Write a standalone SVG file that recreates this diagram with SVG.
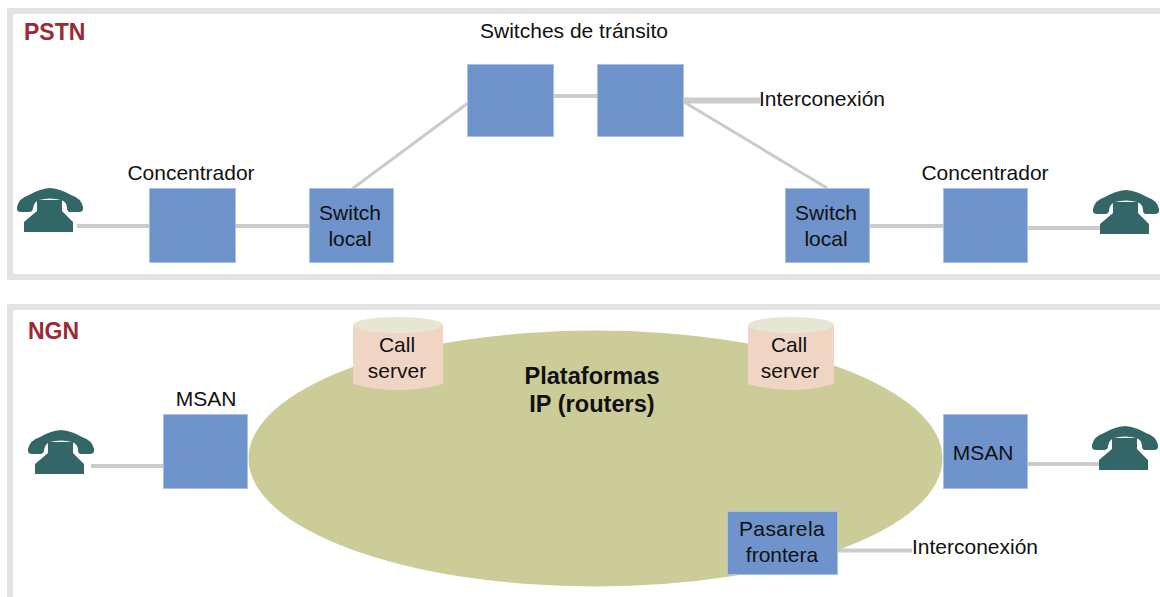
<svg xmlns="http://www.w3.org/2000/svg" width="1160" height="597" viewBox="0 0 1160 597">
<style>
.frame{fill:none;stroke:#e3e3e3;stroke-width:6}
.box{fill:url(#dots);stroke:#a9c2e4;stroke-width:1}
.ln{stroke:#cbcbcb;stroke-width:4;fill:none}
.thin{stroke-width:3}
.thick{stroke-width:6}
.t{font-family:"Liberation Sans",Arial,sans-serif;font-size:21px;fill:#111;text-anchor:middle}
.h{font-family:"Liberation Sans",Arial,sans-serif;font-size:23px;font-weight:bold;fill:#9b2a35}
.b{font-family:"Liberation Sans",Arial,sans-serif;font-size:23.600px;font-weight:bold;fill:#111;text-anchor:middle}
.ph{fill:#336767}
.cyl{fill:#f0d5c5}
.cap{fill:#e6e6d3}
</style>
<defs>
<pattern id="dots" width="3" height="3" patternUnits="userSpaceOnUse">
<rect width="3" height="3" fill="#6b94cc"/>
<rect x="1" y="1" width="1" height="1" fill="#8a8cc6"/>
</pattern>
<g id="phone">
<path class="ph" d="M0 19 Q2 10 12 7 Q22 1 33 0 Q44 1 54 7 Q64 10 66 19 L66 21 Q66 24 62 24 L53 24 Q50 24 50 20 Q50 14 44 12 Q33 9 22 12 Q17 14 16 20 Q16 24 12 24 L4 24 Q0 24 0 21 Z"/>
<path class="ph" d="M20 12 H45 V23 L56 34 V44 H7 V34 L20 23 Z"/>
</g>
</defs>
<rect width="1160" height="597" fill="#fff"/>
<path class="frame" d="M1160 11 H10 V277 H1160"/>
<path class="frame" d="M1160 307 H10 V597"/>
<text class="h" x="24" y="40">PSTN</text>
<text class="h" x="28" y="339">NGN</text>
<g id="connectors">
<path class="ln" d="M77 226 H150"/>
<path class="ln" d="M235 226 H311"/>
<path class="ln thin" d="M352 189 L468 103"/>
<path class="ln" d="M553 96 H598"/>
<path class="ln thick" d="M684 100.500 H760"/>
<path class="ln thin" d="M684 102 L827 188"/>
<path class="ln" d="M869 226 H945"/>
<path class="ln" d="M1028 228 H1104"/>
<path class="ln" d="M91 466 H164"/>
<path class="ln" d="M1028 464 H1104"/>
<path class="ln" d="M837 550.500 H912"/>
</g>
<g id="phone-pstn-left"><use href="#phone" x="17" y="188"/></g>
<g id="phone-pstn-right"><use href="#phone" x="1093" y="190"/></g>
<g id="phone-ngn-left"><use href="#phone" x="28" y="430"/></g>
<g id="phone-ngn-right"><use href="#phone" x="1092" y="426"/></g>
<g id="concentrador-left"><rect class="box" x="149.500" y="188.500" width="86" height="74"/><text class="t" x="191" y="180">Concentrador</text></g>
<g id="switch-local-left"><rect class="box" x="309.500" y="188.500" width="84" height="74"/><text class="t" x="350" y="220">Switch</text><text class="t" x="350" y="246">local</text></g>
<g id="transito-1"><rect class="box" x="467.500" y="64.500" width="86" height="72"/></g>
<g id="transito-2"><rect class="box" x="597.500" y="64.500" width="86" height="72"/></g>
<text class="t" x="574" y="38">Switches de tránsito</text>
<text class="t" x="822" y="106">Interconexión</text>
<g id="switch-local-right"><rect class="box" x="785.500" y="188.500" width="84" height="74"/><text class="t" x="826" y="220">Switch</text><text class="t" x="826" y="246">local</text></g>
<g id="concentrador-right"><rect class="box" x="943.500" y="188.500" width="84" height="74"/><text class="t" x="985" y="180">Concentrador</text></g>
<g id="plataformas"><ellipse cx="595.500" cy="458.500" rx="347" ry="128" fill="#cccc99"/><text class="b" x="592" y="384">Plataformas</text><text class="b" x="592" y="412">IP (routers)</text></g>
<g id="call-server-left"><path class="cyl" d="M353 325 V384 Q398 396 443 384 V325 Z"/><ellipse class="cap" cx="398" cy="325" rx="45" ry="8"/><text class="t" x="397" y="352">Call</text><text class="t" x="397" y="378">server</text></g>
<g id="call-server-right"><path class="cyl" d="M748 325 V384 Q791 396 834 384 V325 Z"/><ellipse class="cap" cx="791" cy="325" rx="43" ry="8"/><text class="t" x="789" y="352">Call</text><text class="t" x="790" y="378">server</text></g>
<g id="msan-left"><rect class="box" x="163.500" y="414.500" width="84" height="74"/><text class="t" x="206" y="406">MSAN</text></g>
<g id="msan-right"><rect class="box" x="943.500" y="414.500" width="84" height="74"/><text class="t" x="983" y="460">MSAN</text></g>
<g id="pasarela"><rect class="box" x="727.500" y="511.500" width="110" height="63"/><text class="t" x="782" y="536" letter-spacing="0.400">Pasarela</text><text class="t" x="782" y="562">frontera</text></g>
<text class="t" x="975" y="554">Interconexión</text>
</svg>
